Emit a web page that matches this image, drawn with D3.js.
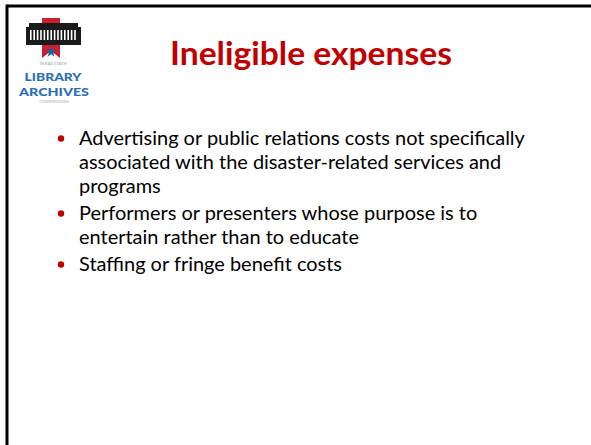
<!DOCTYPE html>
<html><head><meta charset="utf-8">
<script src="https://cdn.jsdelivr.net/npm/d3@7/dist/d3.min.js"></script>
<style>body{margin:0;background:#fff}svg{display:block}</style>
</head><body>
<script>
const titleText = "Ineligible expenses";
const bulletParas = [
  ["Advertising or public relations costs not specifically", "associated with the disaster-related services and", "programs"],
  ["Performers or presenters whose purpose is to", "entertain rather than to educate"],
  ["Staffing or fringe benefit costs"]
];
const logoWords = ["TEXAS STATE", "LIBRARY", "ARCHIVES", "COMMISSION"];

const W = 591, H = 445;
const svg = d3.select("body").append("svg").attr("width", W).attr("height", H);
svg.append("rect").attr("width", W).attr("height", H).attr("fill", "#fff");
// frame (top & left)
svg.append("line").attr("x1", 7).attr("x2", W).attr("y1", 6).attr("y2", 6).attr("stroke", "#000").attr("stroke-width", 3);
svg.append("line").attr("x1", 7).attr("x2", 7).attr("y1", 4.5).attr("y2", H).attr("stroke", "#000").attr("stroke-width", 3);

// logo
const lg = svg.append("g");
lg.append("path").attr("d", "M42,18 L60,18 L60,58 L51,51 L42,58 Z").attr("fill", "#c8202f");
lg.append("rect").attr("x", 26).attr("y", 27).attr("width", 55).attr("height", 18).attr("fill", "#1a1a1a");
lg.append("rect").attr("x", 29).attr("y", 23).attr("width", 49).attr("height", 5).attr("fill", "#1a1a1a");
const cols = d3.range(0, 14);
lg.selectAll("rect.col").data(cols).join("rect").attr("class", "col")
  .attr("x", d => 30 + d * 3.4).attr("y", 30).attr("width", 1.6).attr("height", 10).attr("fill", "#fff");
const star = d3.symbol().type(d3.symbolStar).size(40);
lg.append("path").attr("d", star()).attr("transform", "translate(51,52)").attr("fill", "#1f5fa8");
lg.append("text").attr("x", 53).attr("y", 65).attr("text-anchor", "middle").attr("font-family", "Lato, sans-serif")
  .attr("font-size", 4.5).attr("fill", "#999").text(logoWords[0]);
lg.append("text").attr("x", 53).attr("y", 81).attr("text-anchor", "middle").attr("font-family", "Lato, sans-serif")
  .attr("font-weight", 900).attr("font-size", 12).attr("fill", "#2d6db5").attr("textLength", 57).attr("lengthAdjust", "spacingAndGlyphs").text(logoWords[1]);
lg.append("text").attr("x", 54).attr("y", 95.5).attr("text-anchor", "middle").attr("font-family", "Lato, sans-serif")
  .attr("font-weight", 900).attr("font-size", 12).attr("fill", "#2d6db5").attr("textLength", 70).attr("lengthAdjust", "spacingAndGlyphs").text(logoWords[2]);
lg.append("text").attr("x", 54).attr("y", 103).attr("text-anchor", "middle").attr("font-family", "Lato, sans-serif")
  .attr("font-size", 4.5).attr("fill", "#aaa").text(logoWords[3]);

// title
const t = svg.append("text").attr("x", 170).attr("y", 65).attr("font-family", "Lato, 'Open Sans', sans-serif")
  .attr("font-weight", 700).attr("font-size", 32).attr("fill", "#c00000").text(titleText);
t.attr("textLength", 282).attr("lengthAdjust", "spacingAndGlyphs");

// bullets
const lineH = 24, paraGap = 3;
let y = 145;
const rows = [];
bulletParas.forEach((p, pi) => {
  p.forEach((ln, li) => {
    rows.push({text: ln, y: y, first: li === 0});
    y += lineH;
  });
  y += paraGap;
});
const bg = svg.append("g").attr("font-family", "Lato, 'Open Sans', sans-serif").attr("font-size", 19).attr("fill", "#000");
bg.selectAll("text").data(rows).join("text").attr("x", 79).attr("y", d => d.y).text(d => d.text);
const firstW = bg.select("text").node().getComputedTextLength();
const scale = 446 / firstW;
bg.attr("font-size", Math.min(20, 19 * scale));
bg.selectAll("circle").data(rows.filter(d => d.first)).join("circle")
  .attr("cx", 61).attr("cy", d => d.y - 6.5).attr("r", 3.2).attr("fill", "#c00000");
</script>
</body></html>
